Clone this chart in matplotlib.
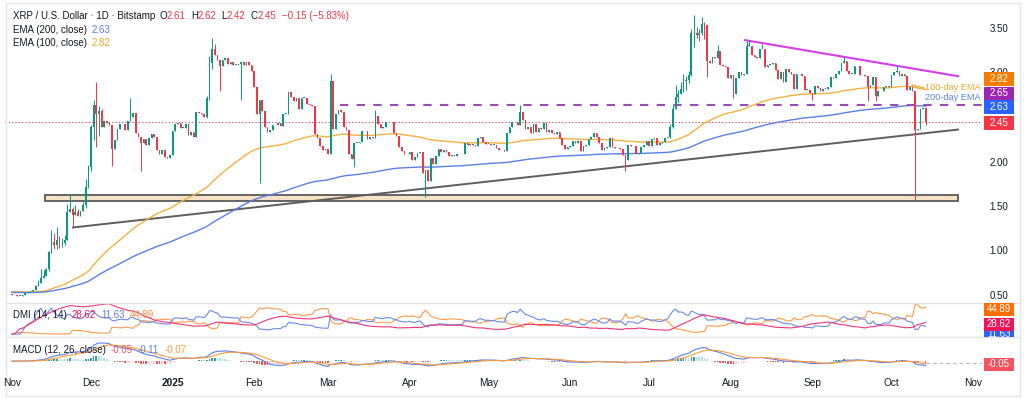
import numpy as np
import matplotlib
matplotlib.use('Agg')
import matplotlib.pyplot as plt
from matplotlib.patches import Rectangle
from matplotlib.lines import Line2D

plt.rcParams['font.family'] = ['Liberation Sans', 'DejaVu Sans']

# daily closes, XRP/USD Bitstamp, 1 Nov 2024 .. 14 Oct 2025
nov = [0.507, 0.507, 0.500, 0.503, 0.515, 0.535, 0.549, 0.559, 0.563, 0.615, 0.645, 0.700, 0.724, 0.804, 0.995,
       1.11, 1.07, 1.13, 1.09, 1.10, 1.13, 1.44, 1.48, 1.41, 1.44, 1.40, 1.46, 1.52, 1.72, 1.95]
dec = [2.40, 2.65, 2.55, 2.58, 2.40, 2.47, 2.44, 2.42, 2.15, 2.25, 2.38, 2.43, 2.43, 2.37, 2.47, 2.51, 2.56,
       2.33, 2.29, 2.22, 2.26, 2.20, 2.27, 2.32, 2.29, 2.14, 2.10, 2.14, 2.06, 2.05, 2.08]
jan = [2.35, 2.43, 2.44, 2.39, 2.39, 2.43, 2.31, 2.34, 2.29, 2.57, 2.56, 2.55, 2.51, 2.72, 3.12, 3.28, 3.21,
       3.15, 3.08, 3.15, 3.17, 3.11, 3.13, 3.10, 3.10, 3.11, 3.13, 3.09, 3.13, 3.10, 3.03]
feb = [2.85, 2.55, 2.70, 2.58, 2.40, 2.34, 2.36, 2.42, 2.42, 2.44, 2.41, 2.55, 2.55, 2.79, 2.74, 2.69, 2.72,
       2.60, 2.73, 2.73, 2.66, 2.65, 2.63, 2.32, 2.27, 2.19, 2.14, 2.15]
mar = [2.10, 2.92, 2.38, 2.55, 2.59, 2.57, 2.40, 2.36, 2.10, 2.04, 2.22, 2.22, 2.23, 2.35, 2.35, 2.26, 2.29,
       2.28, 2.52, 2.43, 2.39, 2.40, 2.45, 2.46, 2.45, 2.33, 2.30, 2.17, 2.13, 2.09, 2.09]
apr = [2.12, 2.03, 2.06, 2.11, 2.12, 1.88, 1.92, 1.79, 2.05, 1.98, 2.07, 2.15, 2.12, 2.14, 2.12, 2.07, 2.08,
       2.07, 2.09, 2.09, 2.10, 2.22, 2.20, 2.21, 2.20, 2.19, 2.27, 2.29, 2.23, 2.21]
may = [2.21, 2.20, 2.20, 2.16, 2.14, 2.14, 2.13, 2.33, 2.40, 2.45, 2.45, 2.42, 2.57, 2.48, 2.38, 2.40, 2.33,
       2.43, 2.34, 2.39, 2.38, 2.44, 2.34, 2.36, 2.33, 2.32, 2.34, 2.28, 2.20, 2.15, 2.17]
jun = [2.19, 2.24, 2.22, 2.24, 2.13, 2.18, 2.20, 2.26, 2.29, 2.33, 2.29, 2.22, 2.14, 2.16, 2.17, 2.27, 2.17,
       2.16, 2.16, 2.15, 2.08, 2.03, 2.20, 2.18, 2.18, 2.10, 2.11, 2.17, 2.20, 2.24]
jul = [2.19, 2.26, 2.27, 2.20, 2.22, 2.23, 2.27, 2.29, 2.40, 2.60, 2.74, 2.77, 2.83, 2.92, 2.93, 2.98, 3.45,
       3.45, 3.43, 3.46, 3.56, 3.54, 3.14, 3.12, 3.18, 3.17, 3.25, 3.09, 3.08, 3.07, 2.95]
aug = [2.98, 2.77, 2.95, 3.02, 2.98, 3.00, 3.31, 3.31, 3.21, 3.19, 3.17, 3.27, 3.27, 3.07, 3.10, 3.11, 3.12,
       3.04, 2.94, 3.02, 2.90, 3.05, 3.02, 3.00, 2.83, 3.00, 2.99, 2.97, 2.82, 2.82, 2.78]
sep = [2.77, 2.86, 2.84, 2.80, 2.83, 2.83, 2.85, 2.96, 2.95, 3.00, 3.03, 3.12, 3.14, 3.03, 3.00, 3.00, 3.08,
       3.08, 2.98, 2.98, 2.97, 2.85, 2.87, 2.96, 2.75, 2.80, 2.80, 2.85, 2.86, 2.85]
octo = [2.98, 3.02, 3.03, 2.97, 2.99, 2.97, 2.81, 2.85, 2.80, 2.37, 2.38, 2.60, 2.61, 2.45]

first_open = 0.52
# wicks (day index from 1 Nov 2024)
wick_highs = {9: 0.62, 10: 0.68, 11: 0.80, 12: 0.79, 13: 0.82, 14: 1.01, 15: 1.24, 16: 1.21, 17: 1.27,
              18: 1.17, 19: 1.15, 20: 1.19, 21: 1.53, 22: 1.63, 23: 1.50, 24: 1.52, 25: 1.48, 27: 1.56,
              28: 1.82, 29: 1.97, 30: 2.42, 31: 2.70, 32: 2.90, 33: 2.64, 34: 2.60, 45: 2.72, 74: 2.75,
              75: 3.20, 76: 3.40, 77: 3.33, 121: 3.00, 138: 2.59, 193: 2.65, 250: 2.43, 251: 2.65,
              252: 2.87, 253: 2.82, 254: 2.90, 255: 2.99, 256: 2.97, 257: 3.03, 258: 3.50, 259: 3.66,
              260: 3.52, 261: 3.50, 262: 3.64, 263: 3.58, 268: 3.32, 279: 3.36, 280: 3.38, 285: 3.33,
              316: 3.18, 336: 3.10, 347: 2.62}
wick_lows = {14: 0.78, 15: 0.98, 16: 1.03, 17: 1.03, 18: 1.04, 19: 1.05, 20: 1.07, 21: 1.13, 23: 1.27,
             28: 1.49, 29: 1.71, 30: 1.90, 31: 2.25, 32: 2.17, 33: 2.30, 38: 1.96, 49: 1.90, 74: 2.50,
             75: 2.70, 76: 3.05, 79: 2.80, 87: 2.70, 94: 1.77, 130: 1.95, 157: 1.61, 233: 1.91,
             250: 2.28, 251: 2.39, 252: 2.60, 253: 2.68, 254: 2.77, 255: 2.79, 256: 2.81, 257: 2.89,
             258: 2.97, 259: 3.30, 260: 3.40, 261: 3.36, 262: 3.43, 263: 3.39, 264: 2.96, 274: 2.72,
             304: 2.70, 325: 2.69, 328: 2.69, 343: 1.58, 347: 2.42}

month_ticks = [0, 30, 61, 92, 120, 151, 181, 212, 242, 273, 304, 334, 365]
month_names = ['Nov', 'Dec', '2025', 'Feb', 'Mar', 'Apr', 'May', 'Jun', 'Jul', 'Aug', 'Sep', 'Oct', 'Nov']

closes = np.array(nov + dec + jan + feb + mar + apr + may + jun + jul + aug + sep + octo)
days = np.arange(len(closes))
opens = np.concatenate([[first_open], closes[:-1]])
highs = np.maximum(opens, closes)
lows = np.minimum(opens, closes)
for d, v in wick_highs.items():
    highs[d] = max(highs[d], v)
for d, v in wick_lows.items():
    lows[d] = min(lows[d], v)


def ema(x, n, seed):
    a = 2.0 / (n + 1)
    out, v = [], seed
    for p in x:
        v = a * p + (1 - a) * v
        out.append(v)
    return np.array(out)


def rma(x, n):
    out, v = [], x[0]
    for p in x:
        v = (p + (n - 1) * v) / n
        out.append(v)
    return np.array(out)


ema200 = ema(closes, 200, 0.54)
ema100 = ema(closes, 100, 0.55)

macd = ema(closes, 12, 0.52) - ema(closes, 26, 0.52)
signal = ema(macd, 9, 0.0)
hist = macd - signal

prev_h = np.concatenate([[highs[0]], highs[:-1]])
prev_l = np.concatenate([[lows[0]], lows[:-1]])
prev_c = np.concatenate([[opens[0]], closes[:-1]])
up = highs - prev_h
down = prev_l - lows
pdm = np.where((up > down) & (up > 0), up, 0.0)
mdm = np.where((down > up) & (down > 0), down, 0.0)
tr = np.maximum(highs - lows, np.maximum(abs(highs - prev_c), abs(lows - prev_c)))
trur = rma(tr, 14)
plus_di = 100 * rma(pdm, 14) / trur
minus_di = 100 * rma(mdm, 14) / trur
s = plus_di + minus_di
adx = 100 * rma(abs(plus_di - minus_di) / np.where(s == 0, 1, s), 14)

W, H = 1024, 399
GREEN, RED = '#089981', '#F23645'
TXT = '#131722'
FS = 7


def fx(px):
    return px / W


def fy(py):
    return 1 - py / H


def day_of(px):
    return (px - 12) / 2.633


def price_of(py):
    return 3.5 - (py - 29) / 89.0


fig = plt.figure(figsize=(W / 100, H / 100), dpi=100)
fig.patch.set_facecolor('white')


def panel(top, bottom):
    ax = fig.add_axes([fx(5), fy(bottom), fx(982) - fx(5), fy(top) - fy(bottom)])
    ax.set_xlim(day_of(5), day_of(982))
    ax.axis('off')
    return ax


# ---- price panel
ax = panel(6, 303)
ax.set_ylim(price_of(303), price_of(6))

ax.add_patch(Rectangle((day_of(45), 1.567), day_of(958) - day_of(45), 0.068,
                       facecolor='#F6E3C6', edgecolor='#5A5A5A', lw=1.3, zorder=2))
ax.plot([day_of(73), day_of(958)], [1.27, 2.37], color='#5E5E5E', lw=1.4, zorder=2)
ax.plot([day_of(745), day_of(958)], [3.375, 2.97], color='#D63FE8', lw=1.5, zorder=4)
ax.plot([day_of(340), day_of(982)], [2.65, 2.65], color='#9A4DB3', lw=1.5, ls=(0, (4, 4)), zorder=4)
ax.axhline(2.45, color=RED, lw=0.8, ls=(0, (1, 2)), zorder=1)

ax.plot(days, ema100, color='#F5B041', lw=1.0, zorder=3)
ax.plot(days, ema200, color='#5B7FE8', lw=1.0, zorder=3)

cols = np.where(closes >= opens, GREEN, RED)
ax.vlines(days, lows, highs, colors=cols, lw=0.7, zorder=5)
ax.bar(days, np.maximum(abs(closes - opens), 0.006), bottom=np.minimum(opens, closes),
       width=0.62, color=cols, lw=0, zorder=6)

ax.plot([day_of(912), day_of(924)], [price_of(85), price_of(88)], color='#F5A623', lw=0.9)
fig.text(fx(925), fy(88), '100-day EMA', color='#F5A623', fontsize=6.6, va='center')
fig.text(fx(925), fy(98), '200-day EMA', color='#5B7FE8', fontsize=6.6, va='center')

# ---- DMI panel
ax2 = panel(303, 337)
ax2.set_ylim((334 - 337) / 0.38, (334 - 303) / 0.38)
ax2.plot(days, minus_di, color='#FF9A4A', lw=0.8)
ax2.plot(days, plus_di, color='#6A8BEA', lw=0.8)
ax2.plot(days, adx, color='#F0357A', lw=0.8)

# ---- MACD panel
ax3 = panel(337, 373)
sc = 18.0 / macd.max()
ax3.set_ylim(-(373 - 361) / sc, (361 - 337) / sc)
hcol = []
for i in range(len(hist)):
    p = hist[i - 1] if i > 0 else 0
    if hist[i] >= 0:
        hcol.append('#26A69A' if hist[i] > p else '#B2DFDB')
    else:
        hcol.append('#FFCDD2' if hist[i] > p else '#FF5252')
ax3.bar(days, hist, width=0.6, color=hcol, lw=0)
ax3.plot(days, macd, color='#5B7FE8', lw=0.8)
ax3.plot(days, signal, color='#FF9A3A', lw=0.8)
ax3.plot([days[-1], day_of(982)], [hist[-1], hist[-1]], color='#B0B3BC', lw=0.8, ls=(0, (3, 3)))

# frame and separators
fig.add_artist(Rectangle((fx(6), fy(396)), fx(1020) - fx(6), fy(3) - fy(396), transform=fig.transFigure,
                         fill=False, edgecolor='#E3E5EA', lw=1))
for py in (303, 337):
    fig.add_artist(Line2D([fx(6), fx(1020)], [fy(py), fy(py)], color='#E3E5EA', lw=1))

# price scale
for v in [3.5, 3.0, 2.0, 1.5, 1.0, 0.5]:
    fig.text(fx(999), fy(29 + (3.5 - v) * 89), f'{v:.2f}', color=TXT, fontsize=FS, ha='center', va='center')


def tag(py, text, color, h=13):
    r = Rectangle((fx(984), fy(py + h / 2)), fx(1014) - fx(984), h / H,
                  transform=fig.transFigure, facecolor=color, edgecolor='none', zorder=10)
    fig.add_artist(r)
    t = fig.text(fx(999), fy(py), text, color='white', fontsize=FS, ha='center', va='center', zorder=11)
    t.set_clip_path(r)


tag(79, '2.82', '#F57C00')
tag(93, '2.65', '#9C27B0')
tag(107, '2.63', '#2962FF')
tag(123, '2.45', RED)
tag(309, '44.89', '#FF6D00')
tag(324, '28.62', '#F0155B')
tag(334, '11.63', '#2962FF', h=6)
tag(364, '-0.05', '#F7525F')

# time axis
for d, name in zip(month_ticks, month_names):
    fig.text(fx(12 + d * 2.633), fy(383), name, color=TXT, fontsize=FS + 0.3, ha='center', va='center',
             fontweight='bold' if name == '2025' else 'normal')

# legends
renderer = fig.canvas.get_renderer()


def legend(py, parts, x=13):
    for text, color, gap in parts:
        t = fig.text(fx(x), fy(py), text, color=color, fontsize=FS, va='center')
        x += t.get_window_extent(renderer).width + gap


legend(16, [('XRP / U.S. Dollar · 1D · Bitstamp', TXT, 4), ('O', TXT, 0), ('2.61', RED, 5),
            ('H', TXT, 0), ('2.62', RED, 5), ('L', TXT, 0), ('2.42', RED, 5),
            ('C', TXT, 0), ('2.45', RED, 5), ('\u22120.15 (\u22125.83%)', RED, 0)])
legend(30, [('EMA (200, close)', TXT, 5), ('2.63', '#5B7FE8', 0)])
legend(43, [('EMA (100, close)', TXT, 5), ('2.82', '#F5A623', 0)])
legend(315, [('DMI (14, 14)', TXT, 5), ('28.62', '#F0155B', 5), ('11.63', '#5B7FE8', 5),
             ('44.89', '#FF8F3A', 0)])
legend(350, [('MACD (12, 26, close)', TXT, 5), ('-0.05', '#F7525F', 5), ('-0.11', '#5B7FE8', 5),
             ('-0.07', '#FF9A3A', 0)])

fig.savefig('out.png', dpi=100)
